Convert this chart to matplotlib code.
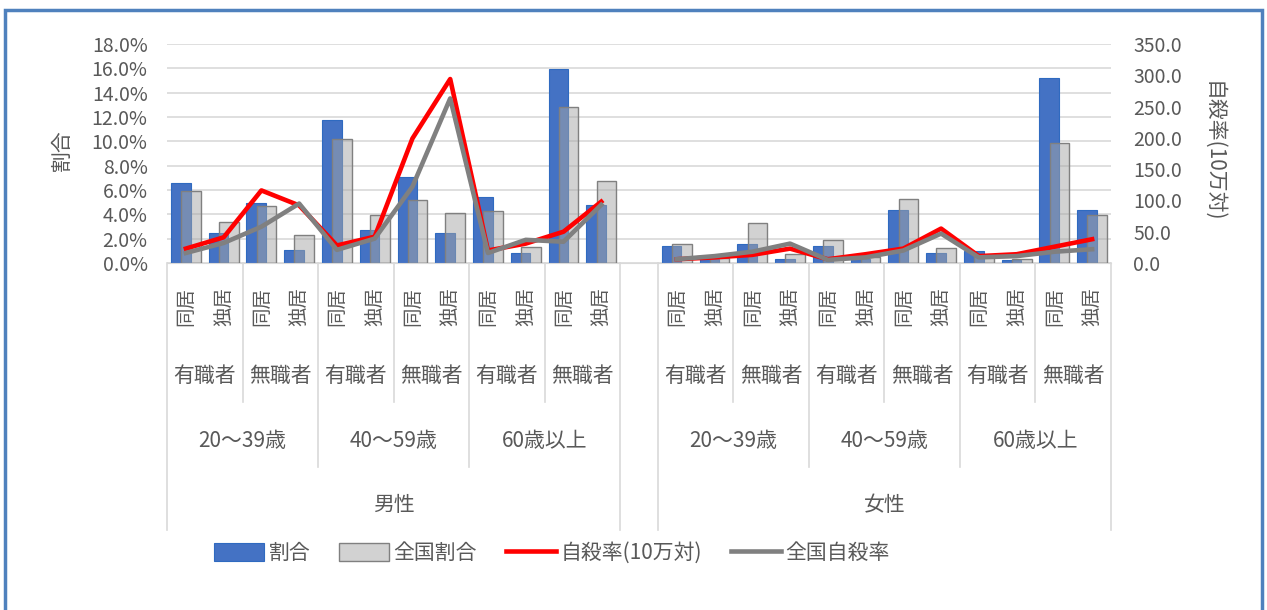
import numpy as np
import matplotlib
matplotlib.use('Agg')
import matplotlib.pyplot as plt
from matplotlib.patches import Rectangle

plt.rcParams['font.family'] = ['Noto Sans CJK JP', 'DejaVu Sans']

# category levels
sexes = ['男性', '女性']
ages = ['20～39歳', '40～59歳', '60歳以上']
jobs = ['有職者', '無職者']
living = ['同居', '独居']

# 割合 (%) : male 12 slots, female 12 slots
pct_male = [6.55, 2.5, 4.9, 1.07, 11.75, 2.7, 7.1, 2.5, 5.45, 0.85, 15.95, 4.75]
pct_female = [1.42, 0.3, 1.56, 0.3, 1.42, 0.35, 4.35, 0.85, 1.0, 0.25, 15.2, 4.35]
# 全国割合 (%)
nat_male = [5.95, 3.4, 4.7, 2.3, 10.2, 3.95, 5.2, 4.1, 4.3, 1.35, 12.8, 6.75]
nat_female = [1.56, 0.45, 3.26, 0.74, 1.9, 0.5, 5.26, 1.2, 0.55, 0.35, 9.85, 3.95]
# 自殺率(10万対)
rate_male = [23, 41, 116, 92, 28, 42, 199, 294, 20, 31, 50, 98]
rate_female = [6, 9, 13, 23, 6, 14, 23, 55, 11, 14, 26, 38]
# 全国自殺率
nrate_male = [16, 32, 58, 95, 21, 39, 122, 263, 16, 37, 34, 93]
nrate_female = [6, 11, 18, 31, 5, 9, 20, 47, 9, 11, 18, 22]

W, H = 1267, 610
TEXT = '#595959'
GRID = '#D9D9D9'

x_male = np.arange(12)
x_female = np.arange(13, 25)
x_all = np.concatenate([x_male, x_female])

fig = plt.figure(figsize=(W / 100, H / 100), dpi=100)
left, right, top, bottom = 167, 1111, 44, 263
ax = fig.add_axes([left / W, 1 - bottom / H, (right - left) / W, (bottom - top) / H])

ax.bar(x_all - 0.135, pct_male + pct_female, width=0.52, color='#4472C4',
       edgecolor='#2F6AC0', linewidth=0.8, label='割合', zorder=2)
ax.bar(x_all + 0.135, nat_male + nat_female, width=0.52,
       facecolor=(0.65, 0.65, 0.65, 0.5), edgecolor='#808080', linewidth=1.0,
       label='全国割合', zorder=3)

ax.set_xlim(-0.5, 24.5)
ax.set_ylim(0, 18)
ax.set_yticks(np.arange(0, 18.1, 2))
ax.set_yticklabels([f'{v:.1f}%' for v in np.arange(0, 18.1, 2)])
ax.yaxis.grid(True, color=GRID, linewidth=1.2)
ax.set_axisbelow(True)
ax.set_xticks([])
for s in ['left', 'right', 'top']:
    ax.spines[s].set_visible(False)
ax.spines['bottom'].set_color(GRID)
ax.tick_params(axis='y', length=0, pad=14, labelsize=14, labelcolor=TEXT)

ax2 = ax.twinx()
ax2.set_ylim(0, 350)
ax2.set_yticks(np.arange(0, 351, 50))
ax2.set_yticklabels([f'{v:.1f}' for v in np.arange(0, 351, 50)])
ax2.tick_params(axis='y', length=0, pad=16, labelsize=14, labelcolor=TEXT)
for s in ax2.spines.values():
    s.set_visible(False)

red_lines = ax2.plot(x_male, rate_male, color='#FF0000', lw=3.3, solid_joinstyle='round',
                     label='自殺率(10万対)')
ax2.plot(x_female, rate_female, color='#FF0000', lw=3.3, solid_joinstyle='round')
grey_lines = ax2.plot(x_male, nrate_male, color='#808080', lw=3.3, solid_joinstyle='round',
                      label='全国自殺率')
ax2.plot(x_female, nrate_female, color='#808080', lw=3.3, solid_joinstyle='round')

# multi-level category axis
trans = ax.get_xaxis_transform()


def yfrac(ypx):
    return (bottom - ypx) / (bottom - top)


def vline(xv, ypx):
    ax.plot([xv, xv], [0, yfrac(ypx)], transform=trans, clip_on=False,
            color=GRID, linewidth=1.2)


for si, sex in enumerate(sexes):
    base = si * 13
    vline(base - 0.5, 530)
    vline(base + 11.5, 530)
    ax.text(base + 5.5, yfrac(505), sex, transform=trans, ha='center', va='center',
            fontsize=15, color=TEXT)
    for ai, age in enumerate(ages):
        a0 = base + ai * 4
        if ai > 0:
            vline(a0 - 0.5, 467)
        ax.text(a0 + 1.5, yfrac(441), age, transform=trans, ha='center', va='center',
                fontsize=15, color=TEXT)
        for ji, job in enumerate(jobs):
            j0 = a0 + ji * 2
            if ji > 0:
                vline(j0 - 0.5, 402)
            ax.text(j0 + 0.5, yfrac(376), job, transform=trans, ha='center', va='center',
                    fontsize=15, color=TEXT)
            for li, liv in enumerate(living):
                ax.text(j0 + li, yfrac(307), liv, transform=trans, ha='center', va='center',
                        rotation=90, fontsize=14, color=TEXT)

# axis titles
fig.text(62 / W, 1 - 150 / H, '割合', rotation=90, ha='center', va='center',
         fontsize=15, color=TEXT)
fig.text(1213 / W, 1 - 152 / H, '自殺率(10万対)', rotation=270, ha='center', va='center',
         fontsize=15, color=TEXT)

# legend
h1, l1 = ax.get_legend_handles_labels()
fig.legend(h1 + red_lines + grey_lines, l1 + ['自殺率(10万対)', '全国自殺率'],
           loc='center', bbox_to_anchor=(552 / W, 1 - 553 / H), ncol=4, frameon=False,
           fontsize=15, handlelength=2.4, handleheight=1.0, handletextpad=0.2,
           columnspacing=1.4, labelcolor=TEXT)

# outer frame
fig.add_artist(Rectangle((5 / W, -0.05), (1262 - 5) / W, 0.05 + 1 - 10 / H,
                         transform=fig.transFigure, fill=False,
                         edgecolor='#4F81BD', linewidth=2.5))

fig.savefig('out.png', dpi=100)
